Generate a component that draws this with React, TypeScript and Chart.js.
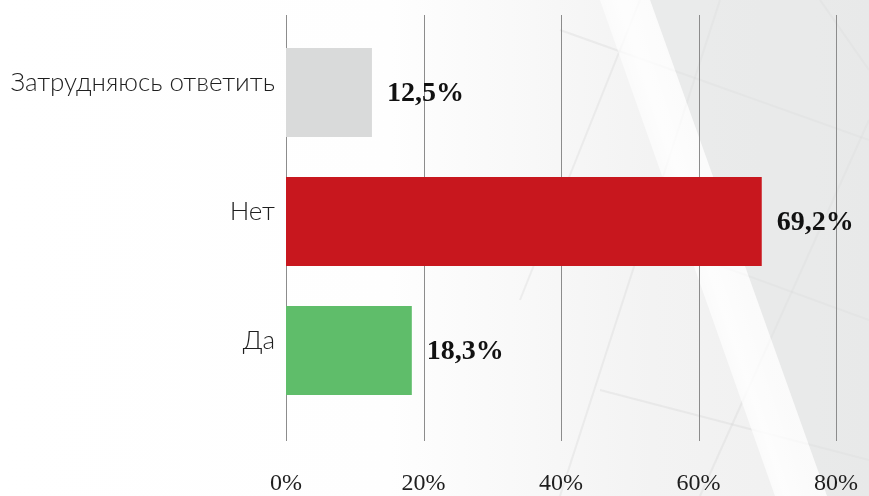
import React, { useEffect, useRef } from "react";
import { Chart, registerables } from "chart.js";

Chart.register(...registerables);

// ---- data ----
const categories = ["Затрудняюсь ответить", "Нет", "Да"];
const values = [12.5, 69.2, 18.3];
const xMin = 0;
const xMax = 80;
const xStep = 20;

// ---- styles ----
const BAR_COLORS = ["#d9dada", "#c8171e", "#5fbd6a"];
const GRID_COLOR = "#8c8c8c";
const TEXT_COLOR = "#1e1e1e";

const fmt = (v: number) => v.toFixed(1).replace(".", ",") + "%";

const backgroundPlugin = {
  id: "bgPattern",
  beforeDraw(chart: any) {
    const { ctx, width, height } = chart;
    ctx.save();
    // base: white fading to light grey
    const g = ctx.createLinearGradient(0, 0, width, 0);
    g.addColorStop(0, "#ffffff");
    g.addColorStop(0.45, "#fefefe");
    g.addColorStop(0.75, "#f3f3f3");
    g.addColorStop(1, "#efefef");
    ctx.fillStyle = g;
    ctx.fillRect(0, 0, width, height);

    // faint geometric lines (right half only)
    ctx.strokeStyle = "rgba(210,210,210,0.3)";
    ctx.lineWidth = 2;
    const lines = [
      [720, 0, 560, 496],
      [640, 0, 520, 300],
      [869, 120, 700, 496],
      [820, 0, 869, 70],
      [560, 30, 869, 140],
      [540, 200, 869, 320],
      [600, 390, 869, 460],
    ];
    lines.forEach(([x1, y1, x2, y2]) => {
      ctx.beginPath();
      ctx.moveTo(x1, y1);
      ctx.lineTo(x2, y2);
      ctx.stroke();
    });

    // slightly darker grey region right of the streak
    ctx.fillStyle = "rgba(226,227,228,0.5)";
    ctx.beginPath();
    ctx.moveTo(650, 0);
    ctx.lineTo(width, 0);
    ctx.lineTo(width, height);
    ctx.lineTo(827, height);
    ctx.closePath();
    ctx.fill();

    // soft white diagonal streak
    const s = ctx.createLinearGradient(600, 150, 690, 120);
    s.addColorStop(0, "rgba(255,255,255,0)");
    s.addColorStop(0.7, "rgba(255,255,255,0.85)");
    s.addColorStop(1, "rgba(255,255,255,0.7)");
    ctx.fillStyle = s;
    ctx.beginPath();
    ctx.moveTo(600, 0);
    ctx.lineTo(650, 0);
    ctx.lineTo(827, height);
    ctx.lineTo(775, height);
    ctx.closePath();
    ctx.fill();
    ctx.restore();
  },
};

const gridPlugin = {
  id: "extGrid",
  beforeDatasetsDraw(chart: any) {
    const { ctx, chartArea } = chart;
    const xs = chart.scales.x;
    ctx.save();
    ctx.strokeStyle = GRID_COLOR;
    ctx.lineWidth = 1;
    xs.ticks.forEach((t: any) => {
      const px = Math.round(xs.getPixelForValue(t.value)) + 0.5;
      ctx.beginPath();
      ctx.moveTo(px, chartArea.top - 13);
      ctx.lineTo(px, chartArea.bottom + 26);
      ctx.stroke();
    });
    ctx.restore();
  },
};

const valueLabelPlugin = {
  id: "valueLabels",
  afterDatasetsDraw(chart: any) {
    const { ctx } = chart;
    const meta = chart.getDatasetMeta(0);
    ctx.save();
    ctx.font = "bold 28px 'Liberation Serif', serif";
    ctx.fillStyle = "#111";
    ctx.textAlign = "left";
    ctx.textBaseline = "middle";
    meta.data.forEach((bar: any, i: number) => {
      const p = bar.getProps(["x", "y"], true);
      ctx.fillText(fmt(values[i]), p.x + 15, p.y + 1);
    });
    ctx.restore();
  },
};

export default function App() {
  const ref = useRef<HTMLCanvasElement | null>(null);

  useEffect(() => {
    document.body.style.margin = "0";
    if (!ref.current) return;
    const chart = new Chart(ref.current, {
      type: "bar",
      data: {
        labels: categories,
        datasets: [
          {
            data: values,
            backgroundColor: BAR_COLORS,
            borderWidth: 0,
            categoryPercentage: 1,
            barPercentage: 0.69,
          },
        ],
      },
      options: {
        indexAxis: "y",
        animation: false,
        responsive: true,
        maintainAspectRatio: false,
        layout: { padding: { top: 28, right: 33, left: 0, bottom: 0 } },
        plugins: {
          legend: { display: false },
          tooltip: { enabled: false },
          title: { display: false },
        },
        scales: {
          x: {
            min: xMin,
            max: xMax,
            grid: { display: false, drawTicks: true, tickLength: 54 },
            border: { display: false },
            ticks: {
              stepSize: xStep,
              padding: 0,
              maxRotation: 0,
              color: TEXT_COLOR,
              font: { family: "'Liberation Serif', serif", size: 24 },
              callback: (v: any) => v + "%",
            },
            afterFit: (s: any) => {
              s.height = 81;
            },
          },
          y: {
            grid: { display: false, drawTicks: false },
            border: { display: false },
            ticks: {
              padding: 11,
              labelOffset: -10,
              color: TEXT_COLOR,
              font: { family: "Lato, sans-serif", size: 26, weight: "300" },
            },
            afterFit: (s: any) => {
              s.width = 286;
            },
          },
        },
      },
      plugins: [backgroundPlugin, gridPlugin, valueLabelPlugin],
    });
    return () => chart.destroy();
  }, []);

  return (
    <div style={{ position: "relative", width: 869, height: 496 }}>
      <canvas ref={ref} />
    </div>
  );
}
